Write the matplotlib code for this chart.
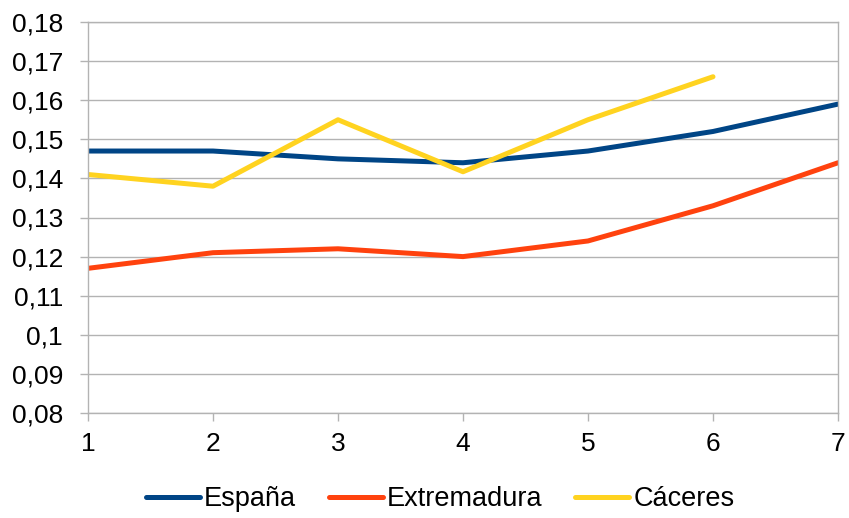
import matplotlib.pyplot as plt
from matplotlib.ticker import FuncFormatter, MultipleLocator

plt.rcParams['font.family'] = ['Liberation Sans', 'DejaVu Sans']
plt.rcParams['font.size'] = 19

# datos
x = [1, 2, 3, 4, 5, 6, 7]
espana = [0.147, 0.147, 0.145, 0.144, 0.147, 0.152, 0.159]
extremadura = [0.117, 0.121, 0.122, 0.120, 0.124, 0.133, 0.144]
caceres = [0.141, 0.138, 0.155, 0.1417, 0.155, 0.166, None]

colors = {'España': '#004586', 'Extremadura': '#ff420e', 'Cáceres': '#ffd320'}
series = {'España': espana, 'Extremadura': extremadura, 'Cáceres': caceres}

fig = plt.figure(figsize=(8.49, 5.18), dpi=100)
ax = fig.add_axes([88 / 849, 1 - 413 / 518, 750 / 849, 391 / 518])

for name, vals in series.items():
    xs = [a for a, v in zip(x, vals) if v is not None]
    ys = [v for v in vals if v is not None]
    ax.plot(xs, ys, color=colors[name], linewidth=3.6, label=name,
            solid_capstyle='round', solid_joinstyle='round')

ax.set_xlim(1, 7)
ax.set_ylim(0.08, 0.18)
ax.yaxis.set_major_locator(MultipleLocator(0.01))
ax.xaxis.set_major_locator(MultipleLocator(1))
ax.yaxis.set_major_formatter(FuncFormatter(lambda v, p: f"{round(v, 2):g}".replace('.', ',')))

ax.grid(axis='y', color='#b3b3b3', linewidth=1)
ax.set_axisbelow(True)
for s in ax.spines.values():
    s.set_color('#b3b3b3')
    s.set_linewidth(1)
ax.tick_params(color='#b3b3b3', length=6, width=1, labelsize=19)
ax.tick_params(axis='y', pad=12)
ax.tick_params(axis='x', pad=8)

fig.legend(loc='center', bbox_to_anchor=(440 / 849, 1 - 499 / 518), ncol=3, frameon=False,
           handlelength=2.0, handletextpad=0.15, columnspacing=1.2, fontsize=19.5,
           borderpad=0, borderaxespad=0)

plt.savefig('out.png', dpi=100)
